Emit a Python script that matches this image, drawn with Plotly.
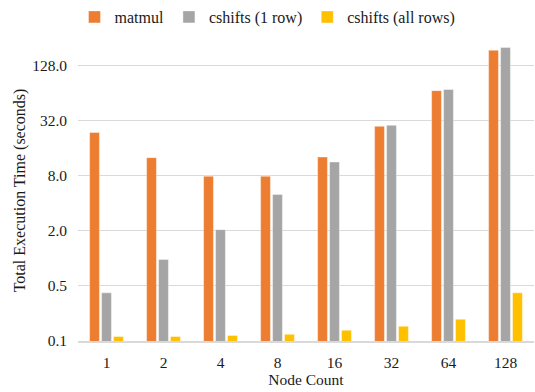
import plotly.graph_objects as go
import math

categories = ["1", "2", "4", "8", "16", "32", "64", "128"]
matmul = [23.7, 12.6, 7.9, 7.9, 12.8, 27.7, 68.0, 188.0]
cshifts_1row = [0.42, 0.97, 2.06, 5.0, 11.3, 28.4, 70.0, 201.0]
cshifts_allrows = [0.14, 0.14, 0.144, 0.148, 0.164, 0.181, 0.216, 0.42]
tick_vals = [0.125, 0.5, 2, 8, 32, 128]
tick_text = ["0.1", "0.5", "2.0", "8.0", "32.0", "128.0"]

font = "Liberation Serif, Times New Roman, serif"
txt = "#1a1a1a"
fig = go.Figure()
for name, vals, col in [("matmul", matmul, "#ED7D31"),
                        ("cshifts (1 row)", cshifts_1row, "#A5A5A5"),
                        ("cshifts (all rows)", cshifts_allrows, "#FFC000")]:
    fig.add_trace(go.Bar(x=categories, y=vals, name=name, marker_color=col,
                         marker_line_color="rgba(255,255,255,0.5)", marker_line_width=0.8))

fig.update_layout(
    width=535, height=392,
    margin=dict(l=78, r=1, t=40, b=51, autoexpand=False),
    paper_bgcolor="white", plot_bgcolor="white",
    barmode="group", bargap=0.37, bargroupgap=0.18,
    font=dict(family=font, size=15, color=txt),
    legend=dict(orientation="h", x=0.5, xref="container", xanchor="center",
                y=1.0, yref="container", yanchor="top",
                font=dict(family=font, size=16, color=txt),
                itemwidth=30, traceorder="normal"),
    showlegend=True,
)
fig.update_yaxes(type="log", range=[math.log10(0.125), 2.386],
                 tickvals=tick_vals, ticktext=tick_text,
                 showgrid=True, gridcolor="#D9D9D9", gridwidth=1,
                 zeroline=False, showline=False, ticks="",
                 ticklabelstandoff=10,
                 tickfont=dict(family=font, size=15.5, color=txt),
                 title=dict(text="Total Execution Time (seconds)",
                            font=dict(family=font, size=16, color=txt), standoff=2))
fig.update_xaxes(type="category", showline=True, linecolor="#D9D9D9", linewidth=1.5,
                 ticks="", showgrid=False, ticklabelstandoff=7,
                 tickfont=dict(family=font, size=15.5, color=txt),
                 title=dict(text="Node Count", font=dict(family=font, size=15.5, color=txt),
                            standoff=1))
fig.write_html("out.html", config={"displayModeBar": False},
               post_script="document.body.style.margin='0';")
